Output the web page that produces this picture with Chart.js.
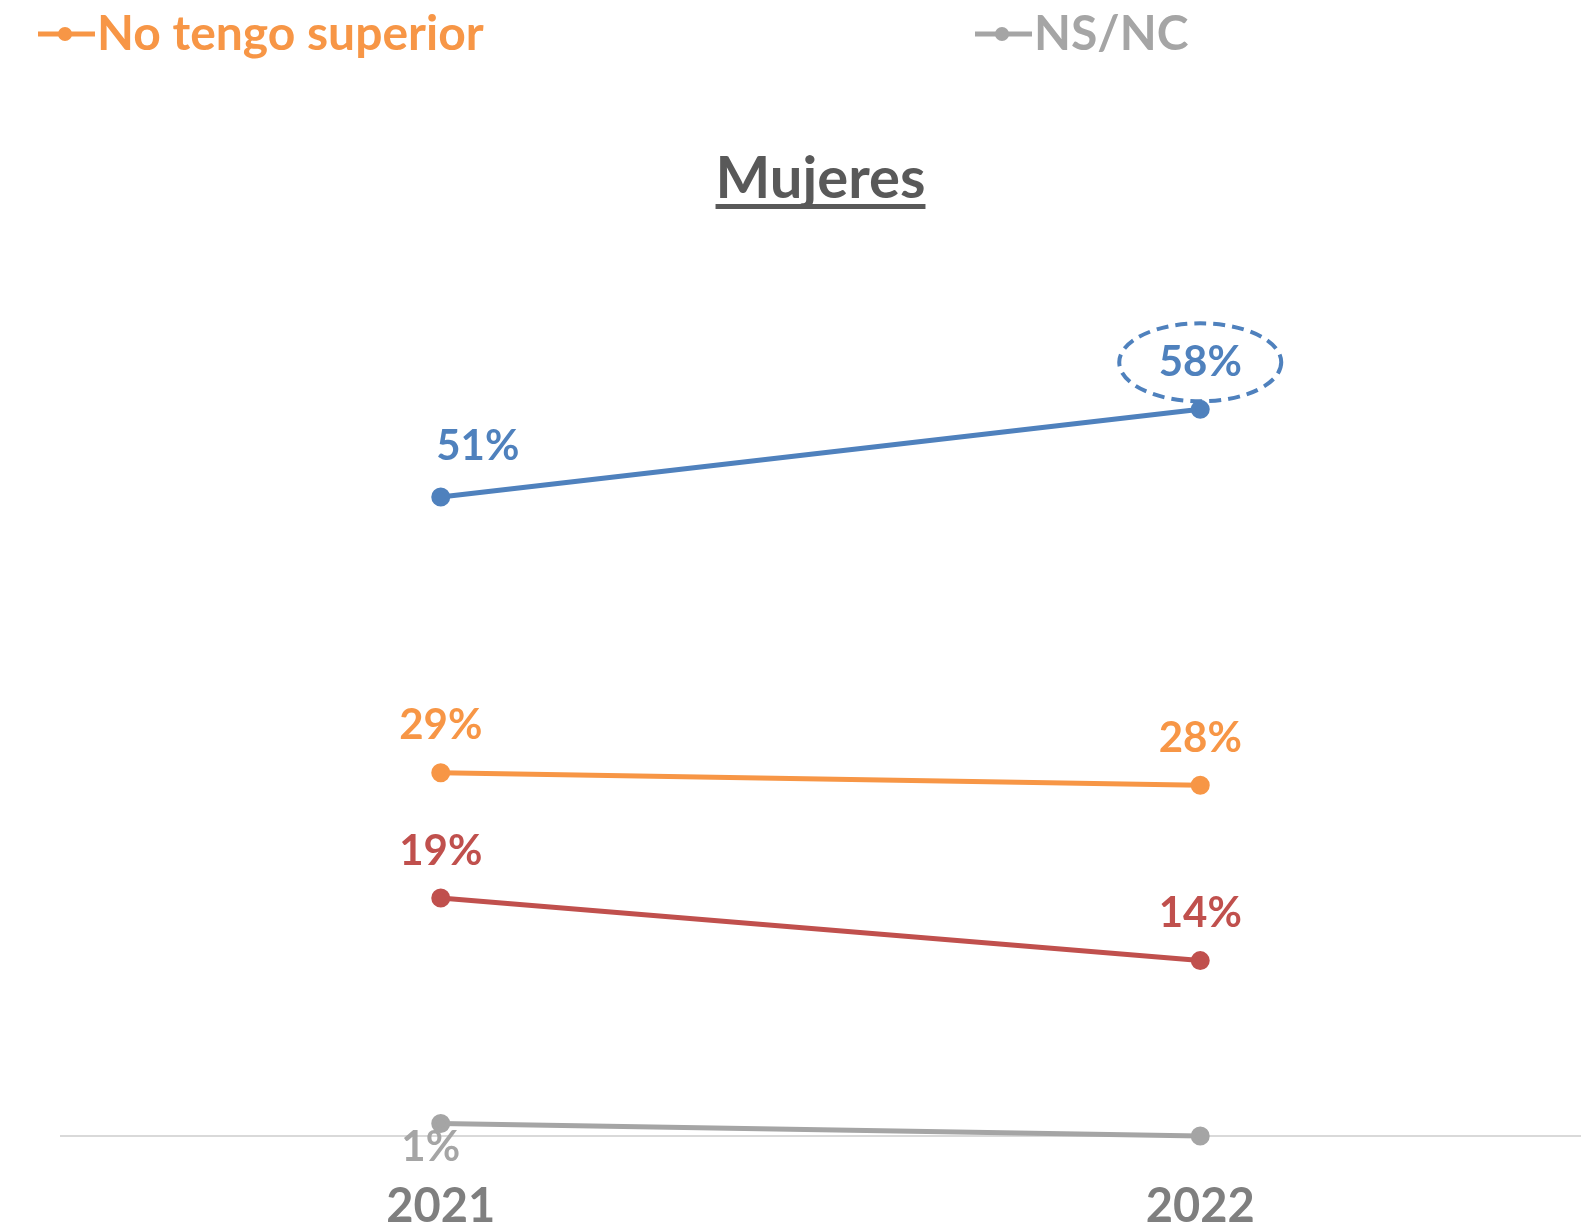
<!DOCTYPE html>
<html>
<head>
<meta charset="utf-8">
<script src="https://cdn.jsdelivr.net/npm/chart.js@4/dist/chart.umd.min.js"></script>
<style>
  html, body { margin: 0; padding: 0; background: #fff; }
  #wrap { width: 1595px; height: 1225px; position: relative; }
</style>
</head>
<body>
<div id="wrap"><canvas id="chart" width="1595" height="1225"></canvas></div>
<script>
// Datos
const years = ['2021', '2022'];
const seriesNames = ['Tengo superior', 'No tengo superior', 'Superior incompleto', 'NS/NC'];
const superior = [51, 58];
const noSuperior = [29, 28];
const incompleto = [19, 14];
const nsnc = [1, 0];
const colors = ['#4f81bd', '#f79646', '#c0504d', '#a5a5a5'];
const FONT = 'Lato, "Open Sans", sans-serif';

// Leyenda visible (solo la fila inferior)
const legendItems = [
  { idx: 1, x: 38 },
  { idx: 3, x: 975 }
];

const legendPlugin = {
  id: 'customLegend',
  afterDraw(chart) {
    const ctx = chart.ctx;
    ctx.save();
    legendItems.forEach(item => {
      const ds = chart.data.datasets[item.idx];
      const y = 34;
      ctx.strokeStyle = ds.borderColor;
      ctx.fillStyle = ds.borderColor;
      ctx.lineWidth = 5;
      ctx.beginPath();
      ctx.moveTo(item.x, y);
      ctx.lineTo(item.x + 57, y);
      ctx.stroke();
      ctx.beginPath();
      ctx.arc(item.x + 27, y, 7, 0, Math.PI * 2);
      ctx.fill();
      ctx.font = 'bold 48px ' + FONT;
      ctx.textBaseline = 'middle';
      ctx.textAlign = 'left';
      ctx.fillText(ds.label, item.x + 59, y + 1);
    });

    // Titulo subrayado
    const cx = (chart.chartArea.left + chart.chartArea.right) / 2;
    ctx.font = 'bold 58px ' + FONT;
    ctx.fillStyle = '#595959';
    ctx.textAlign = 'center';
    ctx.textBaseline = 'alphabetic';
    ctx.fillText('Mujeres', cx, 198);
    const w = ctx.measureText('Mujeres').width;
    ctx.fillRect(cx - w / 2, 204, w, 5);
    ctx.restore();
  }
};

// Etiquetas de datos
const labelPlugin = {
  id: 'dataLabels',
  afterDatasetsDraw(chart) {
    const ctx = chart.ctx;
    ctx.save();
    ctx.font = 'bold 42px ' + FONT;
    ctx.textAlign = 'center';
    ctx.textBaseline = 'middle';
    chart.data.datasets.forEach((ds, di) => {
      const meta = chart.getDatasetMeta(di);
      meta.data.forEach((pt, i) => {
        const v = ds.data[i];
        if (!v) return;
        let dx = 0, dy = -47;
        if (di === 0 && i === 0) { dx = 37; dy = -51; }
        if (di === 3) { dx = -10; dy = 24; }
        ctx.fillStyle = ds.borderColor;
        ctx.fillText(v + '%', pt.x + dx, pt.y + dy);
        // circulo punteado en el ultimo valor de la serie principal
        if (di === 0 && i === ds.data.length - 1) {
          ctx.strokeStyle = ds.borderColor;
          ctx.lineWidth = 4;
          ctx.setLineDash([12, 7]);
          ctx.beginPath();
          ctx.ellipse(pt.x, pt.y - 47, 81, 39, 0, 0, Math.PI * 2);
          ctx.stroke();
          ctx.setLineDash([]);
        }
      });
    });
    ctx.restore();
  }
};

const allSeries = [superior, noSuperior, incompleto, nsnc];

new Chart(document.getElementById('chart'), {
  type: 'line',
  data: {
    labels: years,
    datasets: allSeries.map((d, i) => ({
      label: seriesNames[i],
      data: d,
      borderColor: colors[i],
      backgroundColor: colors[i],
      pointBackgroundColor: colors[i],
      pointBorderColor: colors[i],
      borderWidth: 5,
      pointRadius: 7,
      tension: 0,
      clip: false
    }))
  },
  options: {
    responsive: false,
    animation: false,
    layout: { padding: { top: 259, left: 61, right: 15, bottom: -52 } },
    plugins: {
      legend: { display: false },
      title: { display: false },
      tooltip: { enabled: false }
    },
    scales: {
      x: {
        offset: true,
        grid: { display: false, drawTicks: false },
        border: { display: true, color: '#d9d9d9', width: 2 },
        ticks: {
          color: '#7f7f7f',
          padding: 47,
          font: { family: FONT, size: 47, weight: 'bold', lineHeight: 1 }
        }
      },
      y: {
        display: false,
        min: 0,
        max: 70
      }
    }
  },
  plugins: [legendPlugin, labelPlugin]
});
</script>
</body>
</html>
